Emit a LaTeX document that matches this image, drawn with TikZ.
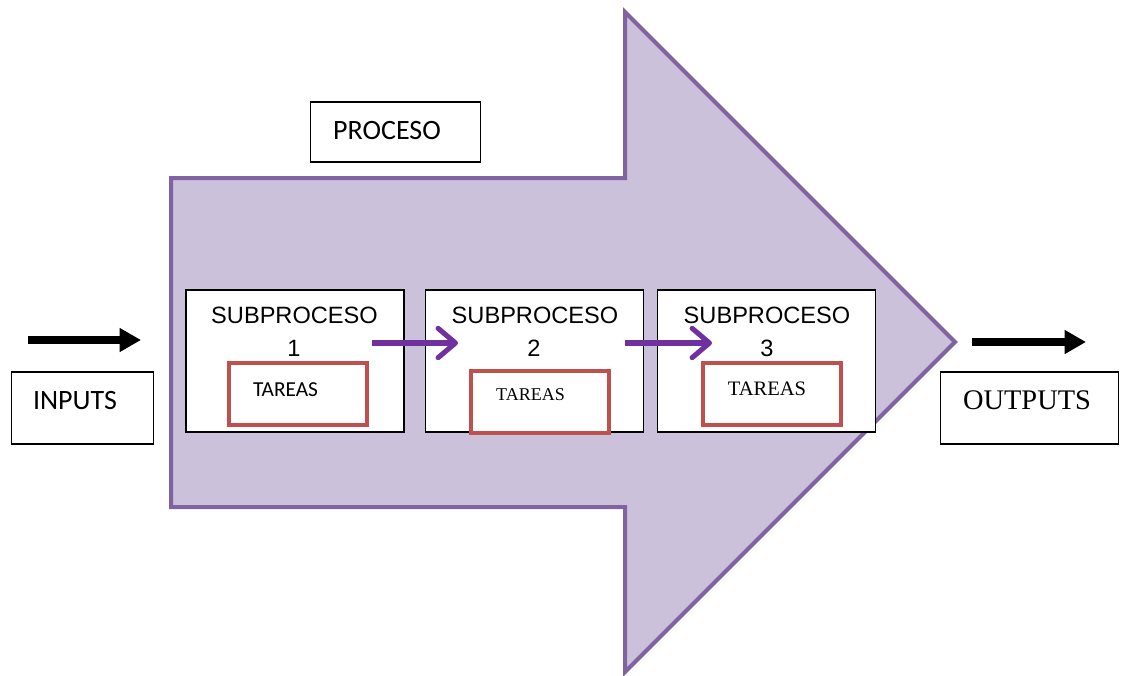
\documentclass[tikz,border=0pt]{standalone}
\usepackage{fontspec}
\usetikzlibrary{arrows.meta}
\newfontfamily\arialf{Liberation Sans}
\newfontfamily\calibrif{Carlito}
\newfontfamily\timesf{Liberation Serif}
\definecolor{procfill}{HTML}{CBC1DB}
\definecolor{procline}{HTML}{8064A2}
\definecolor{flowpurple}{HTML}{7030A0}
\definecolor{taskred}{HTML}{C0504D}
\tikzset{
  plainbox/.style={draw=black, line width=0.8pt, fill=white, inner sep=0pt},
  subbox/.style={plainbox, minimum width=163.5pt, minimum height=106.5pt},
  taskbox/.style={draw=taskred, line width=3pt, fill=white, inner sep=0pt,
                  minimum width=103.5pt, minimum height=46.5pt},
  subtext/.style={font=\arialf\fontsize{17.7}{21}\selectfont, inner sep=0pt},
  flow/.style={draw=flowpurple, line width=3.8pt,
               -{Straight Barb[length=13pt, width=22pt, line cap=round, line join=round]}},
  io/.style={draw=black, line width=6pt, -{Triangle[length=16pt, width=17pt]}},
}
\begin{document}
\begin{tikzpicture}[x=0.75pt, y=-0.75pt]
\useasboundingbox (0,0) rectangle (1121,675);

% main process arrow
\draw[procline, fill=procfill, line width=3pt, line join=miter]
  (171,178) -- (625,178) -- (625,12) -- (955,342) -- (625,672) -- (625,507)
  -- (171,507) -- cycle;

% title box
\node[plainbox, minimum width=128pt, minimum height=45pt] (proc) at (395.5,132) {};
\node[font=\calibrif\fontsize{21}{25}\selectfont, inner sep=0pt] (proct) at (387,131) {PROCESO};

% subprocess boxes
\node[subbox] (s1) at (295,361) {};
\node[subbox] (s2) at (534.5,361) {};
\node[subbox] (s3) at (766.5,361) {};

\node[subtext] (s1a) at (294.5,315) {SUBPROCESO};
\node[subtext] (s1b) at (294,348) {1};
\node[subtext] (s2a) at (535,315) {SUBPROCESO};
\node[subtext] (s2b) at (534,348) {2};
\node[subtext] (s3a) at (767,315) {SUBPROCESO};
\node[subtext] (s3b) at (767,348) {3};

% task boxes
\node[taskbox] (t1) at (298,394) {};
\node[taskbox] (t2) at (540,402) {};
\node[taskbox] (t3) at (772,394) {};
\node[font=\calibrif\fontsize{16}{19}\selectfont, inner sep=0pt] (t1t) at (285.5,390) {TAREAS};
\node[font=\timesf\fontsize{13.5}{16}\selectfont, inner sep=0pt] (t2t) at (530.5,395) {TAREAS};
\node[font=\timesf\fontsize{15.4}{18}\selectfont, inner sep=0pt] (t3t) at (767,389) {TAREAS};

% flow between subprocesses
\coordinate (f1a) at (372,343);
\coordinate (f1b) at (458,343);
\coordinate (f2a) at (625,343);
\coordinate (f2b) at (712,343);
\draw[flow] (f1a) -- (f1b);
\draw[flow] (f2a) -- (f2b);

% inputs
\node[plainbox, minimum width=107pt, minimum height=54pt] (in) at (82.5,408) {};
\node[font=\calibrif\fontsize{21}{25}\selectfont, inner sep=0pt] (int) at (75,401) {INPUTS};
\coordinate (ina) at (28,340);
\coordinate (inb) at (141,340);
\draw[io] (ina) -- (inb);

% outputs
\node[plainbox, minimum width=133pt, minimum height=54pt] (out) at (1029.5,408) {};
\node[font=\timesf\fontsize{21.3}{25}\selectfont, inner sep=0pt] (outt) at (1027,400) {OUTPUTS};
\coordinate (outa) at (972,342);
\coordinate (outb) at (1086,342);
\draw[io] (outa) -- (outb);
\end{tikzpicture}
\end{document}
